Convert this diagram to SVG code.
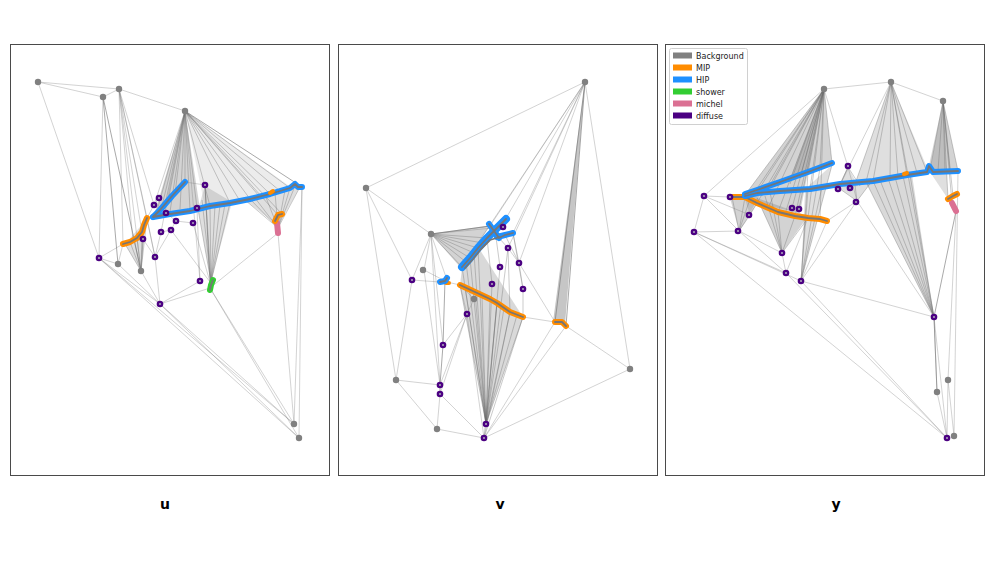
<svg xmlns="http://www.w3.org/2000/svg" width="1000" height="562" viewBox="0 0 1000 562">
<style>
.frame{fill:#fff;stroke:#4a4a4a;stroke-width:1}
.e{fill:none;stroke:#808080;stroke-opacity:.35;stroke-width:1}
.d{fill:none;stroke:#707070;stroke-opacity:.6;stroke-width:1}
.f{fill:none;stroke:#6a6a6a;stroke-opacity:.45;stroke-width:.8}
.fan{fill:#808080;fill-opacity:.25;stroke:none}
.trk{fill:none;stroke-width:6;stroke-linecap:round;stroke-linejoin:round}
.in{fill:none;stroke:#767676;stroke-width:1.8;stroke-linejoin:round;stroke-linecap:round}
.hip{stroke:#1e90ff}.mip{stroke:#ff8c00}.shw{stroke:#32cd32}.mic{stroke:#db7093}
.bg circle{fill:#808080}
.df circle{fill:#4b0082}
.df circle.c{fill:#a9a0b8}
.lab{font-family:"DejaVu Sans","Liberation Sans",sans-serif;font-size:14px;font-weight:bold;fill:#000;text-anchor:middle}
.lg{font-family:"DejaVu Sans","Liberation Sans",sans-serif;font-size:8px;fill:#222}
</style>
<rect width="1000" height="562" fill="#fff"/>

<!-- Panel u -->
<g id="panel-u">
<rect class="frame" x="10.5" y="44.5" width="319" height="431"/>
<g id="u-connectors">
<polygon class="fan" style="fill-opacity:.35" points="185,111 154,215 200,209"/>
<polygon class="fan" style="fill-opacity:.15" points="185,111 205,207 292,188"/>
<polygon class="fan" points="141,271 125,244 146,220"/>
<polygon class="fan" points="211,282 198,209 205,186 232,202"/>
<polygon class="fan" points="278,226 245,200 300,187"/>
<path class="f" d="M185 111L160 214M185 111L170 212M185 111L180 209M185 111L190 210M185 111L185 182M185 111L175 194M185 111L165 205M185 111L197 208M185 111L210 206M185 111L230 203M185 111L250 199M185 111L270 194M185 111L290 188M185 111L278 215M185 111L282 214M185 111L240 201M185 111L260 197M185 111L280 191M185 111L156 214M185 111L168 202"/>
<path class="f" d="M141 271L125 244M141 271L130 242M141 271L137 238M141 271L142 232M141 271L144 225M141 271L147 218M141 271L134 240"/>
<path class="f" d="M211 282L198 209M211 282L205 186M211 282L210 206M211 282L220 205M211 282L230 203M211 282L215 205M211 282L225 204M211 282L202 200"/>
<path class="f" d="M278 228L245 200M278 228L255 198M278 228L265 195M278 228L275 193M278 228L285 190M278 228L295 186M278 228L300 187M278 228L250 199M278 228L290 188"/>
<path class="e" d="M38 82L119 89M38 82L103 97M103 97L119 89M38 82L99 258M119 89L185 111M103 97L99 258M119 89L123 244M119 89L141 271M119 89L155 257M119 89L147 218M119 89L143 239M119 89L154 205M119 89L133 241M99 258L160 304M99 258L294 424M99 258L299 438M99 258L123 244M99 258L118 264M118 264L160 304M141 271L160 304M118 264L123 244M160 304L294 424M160 304L299 438M160 304L210 288M160 304L200 281M160 304L155 257M210 288L294 424M210 288L299 438M302 187L299 438M302 187L294 424M278 233L294 424M210 288L278 233M185 111L200 281M185 111L161 232M185 111L154 205M200 281L197 208M155 257L143 239M155 257L161 232M155 257L176 221M171 230L210 282M193 223L210 282M185 182L205 185M141 271L143 239M147 218L154 205M159 198L154 205M166 213L176 221M176 221L193 223M161 232L171 230M155 257L147 218M123 244L143 239"/>
<path class="d" d="M185 111L302 187M103 97L118 264M103 97L141 271M205 185L210 282"/>
</g>
<g id="u-tracks">
<polyline class="trk hip" points="185,182 172,196 160,210 153,217"/>
<polyline class="trk hip" points="153,217 170,214 190,211 210,206 230,203 250,199 270,194 290,188 295,184 298,187 302,187"/>
<polyline class="in" points="185,182 172,196 160,210 153,217 170,214 190,211 210,206 230,203 250,199 270,194 290,188 295,184 298,187 302,187"/>
<polyline class="trk mip" style="stroke-width:4" points="270,193 273,191"/>
<polyline class="trk mip" points="123,244 130,242 137,238 142,232 144,225 147,218"/>
<polyline class="in" points="123,244 130,242 137,238 142,232 144,225 147,218"/>
<polyline class="trk mic" points="277,223 278,233"/>
<polyline class="trk mip" points="275,221 278,215 282,214"/>
<polyline class="in" points="275,221 278,215 282,214"/>
<polyline class="trk shw" points="213,280 211,285 210,290"/>
<polyline class="in" points="213,280 211,285 210,290"/>
</g>
<g id="u-background" class="bg">
<circle cx="38" cy="82" r="3.2"/><circle cx="103" cy="97" r="3.2"/><circle cx="119" cy="89" r="3.2"/><circle cx="185" cy="111" r="3.2"/>
<circle cx="294" cy="424" r="3.2"/><circle cx="299" cy="438" r="3.2"/><circle cx="118" cy="264" r="3.2"/><circle cx="141" cy="271" r="3.2"/>
</g>
<g id="u-diffuse" class="df">
<circle cx="99" cy="258" r="3.3"/><circle cx="159" cy="198" r="3.3"/><circle cx="154" cy="205" r="3.3"/><circle cx="166" cy="213" r="3.3"/>
<circle cx="176" cy="221" r="3.3"/><circle cx="193" cy="223" r="3.3"/><circle cx="161" cy="232" r="3.3"/><circle cx="171" cy="230" r="3.3"/>
<circle cx="143" cy="239" r="3.3"/><circle cx="155" cy="257" r="3.3"/><circle cx="200" cy="281" r="3.3"/><circle cx="205" cy="185" r="3.3"/>
<circle cx="197" cy="208" r="3.3"/><circle cx="160" cy="304" r="3.3"/>
<circle class="c" cx="99" cy="258" r="1.1"/><circle class="c" cx="159" cy="198" r="1.1"/><circle class="c" cx="154" cy="205" r="1.1"/><circle class="c" cx="166" cy="213" r="1.1"/>
<circle class="c" cx="176" cy="221" r="1.1"/><circle class="c" cx="193" cy="223" r="1.1"/><circle class="c" cx="161" cy="232" r="1.1"/><circle class="c" cx="171" cy="230" r="1.1"/>
<circle class="c" cx="143" cy="239" r="1.1"/><circle class="c" cx="155" cy="257" r="1.1"/><circle class="c" cx="200" cy="281" r="1.1"/><circle class="c" cx="205" cy="185" r="1.1"/>
<circle class="c" cx="197" cy="208" r="1.1"/><circle class="c" cx="160" cy="304" r="1.1"/>
</g>
<text class="lab" x="165" y="509">u</text>
</g>

<!-- Panel v -->
<g id="panel-v">
<rect class="frame" x="338.5" y="44.5" width="319" height="431"/>
<g id="v-connectors">
<polygon class="fan" style="fill-opacity:.35" points="431,234 461,268 490,226"/>
<polygon class="fan" style="fill-opacity:.3" points="486,424 460,285 462,268 480,250 523,317"/>
<polygon class="fan" style="fill-opacity:.45" points="585,82 553,322 565,324"/>
<path class="f" d="M431 234L462 267M431 234L470 258M431 234L478 248M431 234L487 238M431 234L490 226M431 234L466 262M431 234L474 253M431 234L483 243"/>
<path class="f" d="M486 424L460 285M486 424L462 267M486 424L470 258M486 424L478 248M486 424L475 292M486 424L490 299M486 424L497 303M486 424L510 312M486 424L523 317M486 424L492 284M486 424L500 267M486 424L508 248M486 424L465 287M486 424L482 296M486 424L504 308M486 424L517 315M484 438L523 317M484 438L510 312M484 438L497 303M486 424L466 262M486 424L474 253"/>
<path class="f" d="M492 284L487 238M500 267L495 230M508 248L499 238M523 289L513 233M519 263L505 235M523 289L523 317M508 248L510 312"/>
<path class="e" d="M585 82L366 188M585 82L630 369M585 82L490 226M585 82L505 220M585 82L513 233M585 82L462 267M585 82L519 263M585 82L508 248M366 188L431 234M366 188L412 280M366 188L396 380M431 234L412 280M431 234L443 345M431 234L440 385M431 234L424 270M431 234L447 280M424 270L440 385M424 270L447 282M412 280L396 380M412 280L440 282M396 380L440 385M396 380L437 429M437 429L440 394M437 429L484 438M440 394L484 438M440 385L467 314M440 394L467 314M467 314L484 438M467 314L474 299M443 345L467 314M484 438L555 322M484 438L630 369M484 438L566 326M566 326L630 369M523 317L555 322M519 263L555 322M519 263L523 289M508 248L519 263M513 233L519 263M447 282L460 285M431 234L503 227M474 299L460 285M467 314L460 285"/>
<path class="d" d="M431 234L490 226M443 345L445 280M443 345L440 385M440 385L440 394M585 82L555 322M585 82L566 326"/>
</g>
<g id="v-tracks">
<polyline class="trk hip" style="stroke-width:8" points="462,267 470,258 478,248 487,238 495,230 506,219"/>
<polyline class="trk hip" points="489,224 494,231 499,238"/>
<polyline class="trk hip" points="497,237 505,235 513,233"/>
<polyline class="in" points="462,267 470,258 478,248 487,238 495,230 506,219"/>
<polyline class="in" points="465,268 473,259 481,249 490,240 500,237"/>
<polyline class="in" points="489,224 494,231 499,238 505,235 513,233"/>
<polyline class="trk mip" style="stroke-width:4" points="446,283 449,283"/>
<polyline class="trk hip" points="440,282 445,281 447,278"/>
<polyline class="in" points="440,282 445,281 447,278"/>
<polyline class="trk mip" points="460,285 475,292 490,299 497,303 510,312 523,317"/>
<polyline class="in" points="460,285 475,292 490,299 497,303 510,312 523,317"/>
<polyline class="trk mip" points="555,322 562,322 566,326"/>
<polyline class="in" points="555,322 562,322 566,326"/>
</g>
<g id="v-background" class="bg">
<circle cx="585" cy="82" r="3.2"/><circle cx="366" cy="188" r="3.2"/><circle cx="431" cy="234" r="3.2"/><circle cx="423" cy="270" r="3.2"/>
<circle cx="474" cy="299" r="3.2"/><circle cx="396" cy="380" r="3.2"/><circle cx="437" cy="429" r="3.2"/><circle cx="630" cy="369" r="3.2"/>
</g>
<g id="v-diffuse" class="df">
<circle cx="412" cy="280" r="3.3"/><circle cx="467" cy="314" r="3.3"/><circle cx="443" cy="345" r="3.3"/><circle cx="440" cy="385" r="3.3"/>
<circle cx="440" cy="394" r="3.3"/><circle cx="486" cy="424" r="3.3"/><circle cx="484" cy="438" r="3.3"/><circle cx="503" cy="227" r="3.3"/>
<circle cx="508" cy="248" r="3.3"/><circle cx="500" cy="267" r="3.3"/><circle cx="519" cy="263" r="3.3"/><circle cx="492" cy="284" r="3.3"/><circle cx="523" cy="289" r="3.3"/>
<circle class="c" cx="412" cy="280" r="1.1"/><circle class="c" cx="467" cy="314" r="1.1"/><circle class="c" cx="443" cy="345" r="1.1"/><circle class="c" cx="440" cy="385" r="1.1"/>
<circle class="c" cx="440" cy="394" r="1.1"/><circle class="c" cx="486" cy="424" r="1.1"/><circle class="c" cx="484" cy="438" r="1.1"/><circle class="c" cx="503" cy="227" r="1.1"/>
<circle class="c" cx="508" cy="248" r="1.1"/><circle class="c" cx="500" cy="267" r="1.1"/><circle class="c" cx="519" cy="263" r="1.1"/><circle class="c" cx="492" cy="284" r="1.1"/><circle class="c" cx="523" cy="289" r="1.1"/>
</g>
<text class="lab" x="500" y="509">v</text>
</g>

<!-- Panel y -->
<g id="panel-y">
<rect class="frame" x="665.5" y="44.5" width="319" height="431"/>
<g id="y-connectors">
<polygon class="fan" style="fill-opacity:.35" points="824,89 745,195 760,204 800,213"/>
<polygon class="fan" style="fill-opacity:.35" points="824,89 790,179 832,163"/>
<polygon class="fan" style="fill-opacity:.35" points="782,253 757,198 808,216"/>
<polygon class="fan" points="801,281 805,189 832,165"/>
<polygon class="fan" points="891,82 855,184 928,170"/>
<polygon class="fan" style="fill-opacity:.3" points="934,317 866,182 912,175"/>
<polygon class="fan" style="fill-opacity:.35" points="943,101 928,170 958,171"/>
<polygon class="fan" points="943,101 948,199 930,172"/>
<polygon class="fan" style="fill-opacity:.35" points="739,231 730,198 757,201"/>
<polygon class="fan" points="750,215 744,196 760,194"/>
<polygon class="fan" points="857,201 840,189 872,181"/>
<polygon class="fan" points="848,167 838,189 858,186"/>
<path class="f" d="M824 89L745 195M824 89L757 192M824 89L770 188M824 89L790 184M824 89L757 203M824 89L778 212M824 89L795 216M824 89L808 218M824 89L792 208M824 89L799 209M824 89L808 172M824 89L832 163M824 89L810 189M824 89L820 219M824 89L770 185M824 89L768 208M824 89L750 199M824 89L785 214M824 89L800 178M824 89L820 167"/>
<path class="f" d="M782 253L757 198M782 253L765 196M782 253L778 212M782 253L795 216M782 253L808 218M782 253L770 192M801 281L808 189M801 281L808 172M801 281L820 168M801 281L832 165M801 281L822 187"/>
<path class="f" d="M891 82L855 184M891 82L873 181M891 82L890 178M891 82L907 175M891 82L927 172M891 82L934 317M891 82L866 182M891 82L917 173M891 82L898 177M934 317L866 182M934 317L880 180M934 317L895 177M934 317L910 175M934 317L873 181M934 317L888 178M934 317L903 176"/>
<path class="f" d="M943 101L930 170M943 101L945 171M943 101L958 171M943 101L948 199M943 101L953 196M943 101L938 171M943 101L952 203M943 101L950 171"/>
<path class="f" d="M739 231L732 197M739 231L745 197M739 231L757 203M739 231L750 199M857 201L840 189M857 201L855 185M857 201L872 181M848 167L838 189M848 167L860 186"/>
<path class="e" d="M824 89L891 82M891 82L943 101M824 89L704 196M824 89L848 167M891 82L838 189M704 196L730 197M704 196L739 231M694 232L739 231M694 232L704 196M694 232L786 273M694 232L801 281M694 232L947 438M739 231L786 273M739 231L782 253M739 231L750 215M704 196L750 215M782 253L786 273M801 281L934 317M801 281L947 438M786 273L947 438M934 317L947 438M934 317L937 392M937 392L947 438M948 380L954 436M948 380L947 438M958 171L954 436M956 211L948 380M857 201L934 317M827 221L857 201M848 167L857 201M801 281L857 201M848 167L838 189M801 281L827 221M786 273L808 218M750 215L757 203M730 197L745 197"/>
<path class="d" d="M934 317L956 211M937 392L934 317"/>
</g>
<g id="y-tracks">
<polyline class="trk mip" points="732,197 745,197 757,203 778,212 795,216 808,218 820,219 827,221"/>
<polyline class="in" points="732,197 745,197 757,203 778,212 795,216 808,218 820,219 827,221"/>
<polyline class="trk hip" points="745,194 757,190 780,182 808,172 832,163"/>
<polyline class="trk hip" points="745,196 757,193 780,191 810,189 840,184 873,181 907,175 927,172 929,166 933,172 958,171"/>
<polyline class="in" points="745,194 757,190 780,182 808,172 832,163"/>
<polyline class="in" points="745,196 757,193 780,191 810,189 840,184 873,181 907,175 927,172 929,166 933,172 958,171"/>
<polyline class="trk mip" style="stroke-width:4" points="904,174 907,173"/>
<polyline class="trk mic" points="952,203 956,211"/>
<polyline class="trk mip" points="948,199 953,196 957,194"/>
<polyline class="in" points="948,199 953,196 957,194"/>
</g>
<g id="y-background" class="bg">
<circle cx="824" cy="89" r="3.2"/><circle cx="891" cy="82" r="3.2"/><circle cx="943" cy="101" r="3.2"/>
<circle cx="937" cy="392" r="3.2"/><circle cx="948" cy="380" r="3.2"/><circle cx="954" cy="436" r="3.2"/>
</g>
<g id="y-diffuse" class="df">
<circle cx="704" cy="196" r="3.3"/><circle cx="694" cy="232" r="3.3"/><circle cx="730" cy="197" r="3.3"/><circle cx="749" cy="215" r="3.3"/>
<circle cx="738" cy="231" r="3.3"/><circle cx="782" cy="253" r="3.3"/><circle cx="786" cy="273" r="3.3"/><circle cx="801" cy="281" r="3.3"/>
<circle cx="792" cy="208" r="3.3"/><circle cx="799" cy="209" r="3.3"/><circle cx="838" cy="189" r="3.3"/><circle cx="850" cy="188" r="3.3"/>
<circle cx="848" cy="166" r="3.3"/><circle cx="856" cy="202" r="3.3"/><circle cx="934" cy="317" r="3.3"/><circle cx="947" cy="438" r="3.3"/>
<circle class="c" cx="704" cy="196" r="1.1"/><circle class="c" cx="694" cy="232" r="1.1"/><circle class="c" cx="730" cy="197" r="1.1"/><circle class="c" cx="749" cy="215" r="1.1"/>
<circle class="c" cx="738" cy="231" r="1.1"/><circle class="c" cx="782" cy="253" r="1.1"/><circle class="c" cx="786" cy="273" r="1.1"/><circle class="c" cx="801" cy="281" r="1.1"/>
<circle class="c" cx="792" cy="208" r="1.1"/><circle class="c" cx="799" cy="209" r="1.1"/><circle class="c" cx="838" cy="189" r="1.1"/><circle class="c" cx="850" cy="188" r="1.1"/>
<circle class="c" cx="848" cy="166" r="1.1"/><circle class="c" cx="856" cy="202" r="1.1"/><circle class="c" cx="934" cy="317" r="1.1"/><circle class="c" cx="947" cy="438" r="1.1"/>
</g>
<g id="legend">
<rect x="669.5" y="48.5" width="78" height="76" rx="2" fill="#fff" fill-opacity=".85" stroke="#d0d0d0" stroke-width="1"/>
<rect x="673" y="52.5" width="19" height="6" fill="#808080"/>
<rect x="673" y="64.5" width="19" height="6" fill="#ff8c00"/>
<rect x="673" y="76.5" width="19" height="6" fill="#1e90ff"/>
<rect x="673" y="88.5" width="19" height="6" fill="#32cd32"/>
<rect x="673" y="100.5" width="19" height="6" fill="#db7093"/>
<rect x="673" y="112.5" width="19" height="6" fill="#4b0082"/>
<text class="lg" x="696" y="58.5">Background</text>
<text class="lg" x="696" y="70.5">MIP</text>
<text class="lg" x="696" y="82.5">HIP</text>
<text class="lg" x="696" y="94.5">shower</text>
<text class="lg" x="696" y="106.5">michel</text>
<text class="lg" x="696" y="118.5">diffuse</text>
</g>
<text class="lab" x="836" y="509">y</text>
</g>
</svg>
